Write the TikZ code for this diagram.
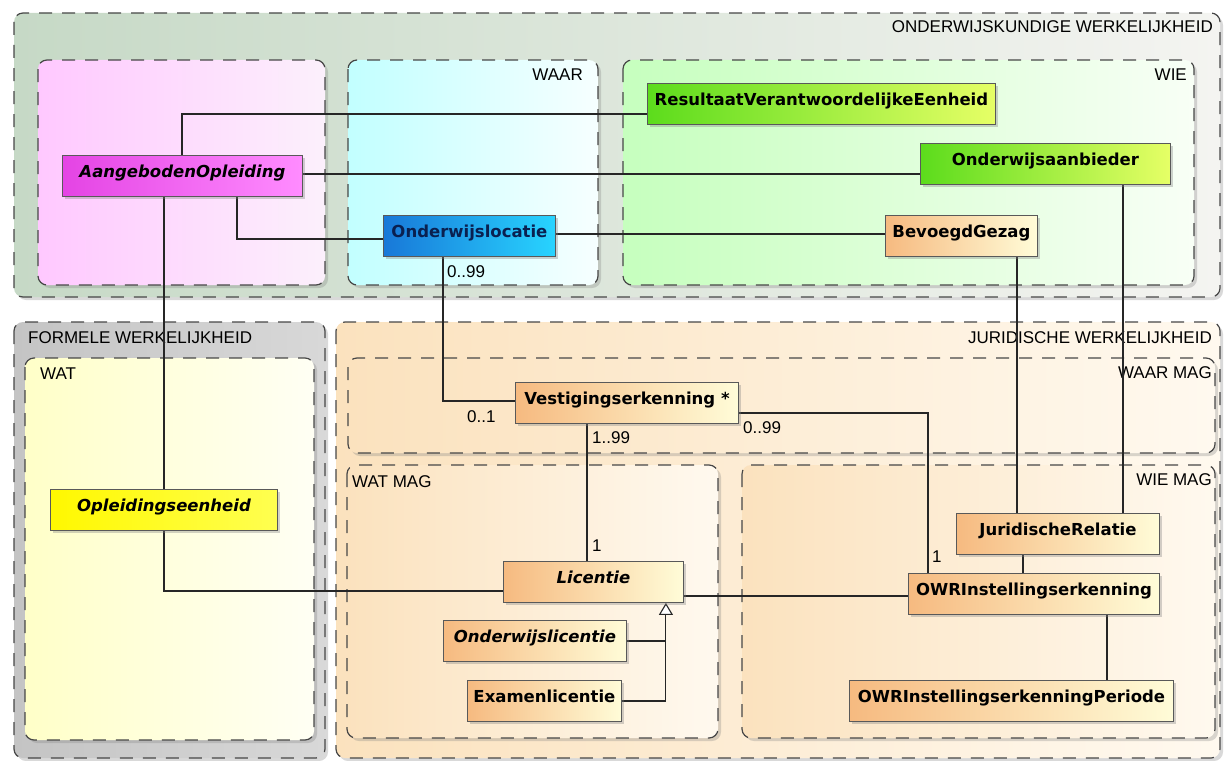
\documentclass[tikz,border=0pt]{standalone}
\usepackage{fontspec}
\setmainfont{Liberation Sans}
\newfontfamily\clsfont{DejaVu Sans}[BoldItalicFont={DejaVu Sans Bold Oblique}]
\usetikzlibrary{arrows.meta,shadows}
\pgfdeclarelayer{grps}
\pgfdeclarelayer{lines}
\pgfsetlayers{grps,lines,main}
\definecolor{owgrp}{HTML}{C6D9C6}
\definecolor{owgrpr}{HTML}{F4F4F1}
\definecolor{pinkgrp}{HTML}{FFC8FF}
\definecolor{pinkgrpr}{HTML}{FCF0FC}
\definecolor{cyangrp}{HTML}{C2FFFF}
\definecolor{cyangrpr}{HTML}{F6FFFF}
\definecolor{greengrp}{HTML}{C6FFBE}
\definecolor{greengrpr}{HTML}{F8FFF6}
\definecolor{graygrp}{HTML}{C4C4C4}
\definecolor{graygrpr}{HTML}{D8D8D8}
\definecolor{yelgrp}{HTML}{FFFFC8}
\definecolor{yelgrpr}{HTML}{FFFFF4}
\definecolor{peachgrp}{HTML}{FBE2BE}
\definecolor{peachgrpr}{HTML}{FFF9EF}
\definecolor{peachcls}{HTML}{F6BA80}
\definecolor{peachclsr}{HTML}{FFFCD8}
\definecolor{greencls}{HTML}{5CDC1C}
\definecolor{greenclsr}{HTML}{E6FF66}
\definecolor{bluecls}{HTML}{1878D8}
\definecolor{blueclsr}{HTML}{28D4FF}
\definecolor{navytxt}{HTML}{0A2050}
\definecolor{magcls}{HTML}{E444E4}
\definecolor{magclsr}{HTML}{FF8CFF}
\definecolor{yelcls}{HTML}{FFF800}
\definecolor{yelclsr}{HTML}{FFFF50}
\begin{document}
\begin{tikzpicture}[x=1pt,y=-1pt,
  grp/.style={draw=black!72,line width=1.2pt,dash pattern=on 13pt off 10pt,rounded corners=9pt,
    drop shadow={opacity=.3,shadow xshift=3pt,shadow yshift=-3pt}},
  grplbl/.style={inner sep=0pt,font=\fontsize{17}{20}\selectfont},
  cls/.style={draw=black!65,line width=.9pt,anchor=north west,inner sep=0pt,
    minimum height=41pt,text height=22pt,text depth=19pt,
    font=\clsfont\bfseries\fontsize{16.5}{20}\selectfont,
    drop shadow={opacity=.35,shadow xshift=3pt,shadow yshift=-3pt}},
  abstr/.style={font=\clsfont\bfseries\itshape\fontsize{16.5}{20}\selectfont},
  peach/.style={left color=peachcls,right color=peachclsr},
  conn/.style={draw=black!85,line width=1.1pt},
  mult/.style={inner sep=0pt,anchor=base west,font=\fontsize{17}{20}\selectfont}]
\useasboundingbox (0,0) rectangle (1225,760);

\begin{pgfonlayer}{grps}
\draw[grp,left color=owgrp,right color=owgrpr] (14,13) rectangle (1220,297);
\draw[grp,left color=pinkgrp,right color=pinkgrpr] (38,60) rectangle (325,285);
\draw[grp,left color=cyangrp,right color=cyangrpr] (348,60) rectangle (598,285);
\draw[grp,left color=greengrp,right color=greengrpr] (623,60) rectangle (1194,285);
\draw[grp,left color=graygrp,right color=graygrpr] (14,322) rectangle (325,758);
\draw[grp,left color=yelgrp,right color=yelgrpr] (25,358) rectangle (314,740);
\draw[grp,left color=peachgrp,right color=peachgrpr] (336,322) rectangle (1220,758);
\draw[grp,left color=peachgrp,right color=peachgrpr] (348,358) rectangle (1215,453);
\draw[grp,left color=peachgrp,right color=peachgrpr] (347,465) rectangle (718,738);
\draw[grp,left color=peachgrp,right color=peachgrpr] (742,465) rectangle (1215,738);
\node[grplbl,anchor=base east] (owlbl) at (1213,33) {ONDERWIJSKUNDIGE WERKELIJKHEID};
\node[grplbl,anchor=base east] (waarlbl) at (583,80) {WAAR};
\node[grplbl,anchor=base east] (wielbl) at (1187,81) {WIE};
\node[grplbl,anchor=base west] (fwlbl) at (28,343) {FORMELE WERKELIJKHEID};
\node[grplbl,anchor=base west] (watlbl) at (40,379) {WAT};
\node[grplbl,anchor=base east] (jwlbl) at (1212,343) {JURIDISCHE WERKELIJKHEID};
\node[grplbl,anchor=base east] (waarmaglbl) at (1212,378) {WAAR MAG};
\node[grplbl,anchor=base west] (watmaglbl) at (352,487) {WAT MAG};
\node[grplbl,anchor=base east] (wiemaglbl) at (1212,485) {WIE MAG};
\end{pgfonlayer}

\node[cls,abstr,left color=magcls,right color=magclsr,minimum width=240pt] (aangeb) at (62,155) {AangebodenOpleiding};
\node[cls,left color=greencls,right color=greenclsr,minimum width=348pt] (result) at (647,83) {ResultaatVerantwoordelijkeEenheid};
\node[cls,left color=greencls,right color=greenclsr,minimum width=250pt] (aanbied) at (920,143) {Onderwijsaanbieder};
\node[cls,left color=bluecls,right color=blueclsr,text=navytxt,minimum width=172pt] (locatie) at (383,215) {Onderwijslocatie};
\node[cls,peach,minimum width=152pt] (bevoegd) at (885,215) {BevoegdGezag};
\node[cls,peach,minimum width=223pt] (vestig) at (515,382) {Vestigingserkenning *};
\node[cls,abstr,left color=yelcls,right color=yelclsr,minimum width=227pt] (opleid) at (50,489) {Opleidingseenheid};
\node[cls,abstr,peach,minimum width=180pt] (licentie) at (503,561) {Licentie};
\node[cls,abstr,peach,minimum width=183pt] (onderlic) at (443,620) {Onderwijslicentie};
\node[cls,peach,minimum width=154pt] (exlic) at (467,680) {Examenlicentie};
\node[cls,peach,minimum width=203pt] (jurid) at (956,513) {JuridischeRelatie};
\node[cls,peach,minimum width=251pt] (owr) at (908,573) {OWRInstellingserkenning};
\node[cls,peach,minimum width=324pt] (periode) at (849,680) {OWRInstellingserkenningPeriode};

\begin{pgfonlayer}{lines}
\draw[conn] ([xshift=120pt]aangeb.north west) |- ([yshift=-10pt]result.west);
\draw[conn] ([yshift=2pt]aangeb.east) -- ([yshift=2pt]aangeb.east -| aanbied.west);
\draw[conn] ([xshift=175pt]aangeb.south west) |- ([yshift=-3pt]locatie.west);
\draw[conn] ([xshift=102pt]aangeb.south west) |- ([yshift=-9pt]licentie.west);
\draw[conn] ([yshift=2pt]locatie.east) -- ([yshift=2pt]locatie.east -| bevoegd.west);
\draw[conn] ([xshift=60pt]locatie.south west) |- ([yshift=2pt]vestig.west);
\draw[conn] ([xshift=72pt]vestig.south west) coordinate (vl) -- (vl |- licentie.north);
\draw[conn] ([yshift=-10pt]vestig.east) -| ([xshift=20pt]owr.north west);
\draw[conn] ([yshift=-14pt]licentie.east) -- ([yshift=-14pt]licentie.east -| owr.west);
\draw[conn] ([xshift=132pt]bevoegd.south west) coordinate (bj) -- (bj |- jurid.north);
\draw[conn] ([xshift=203pt]aanbied.south west) coordinate (aj) -- (aj |- jurid.north);
\draw[conn] ([xshift=67pt]jurid.south west) coordinate (jo) -- (jo |- owr.north);
\draw[conn] ([xshift=199pt]owr.south west) coordinate (op) -- (op |- periode.north);
\coordinate (gentip) at ([xshift=-18pt]licentie.south east);
\draw[conn,-{Triangle[length=12pt,width=14pt,fill=white]}] (onderlic.east) -| (gentip);
\draw[conn] (exlic.east) -| (gentip |- onderlic.east);
\end{pgfonlayer}

\node[mult] (m1) at (447,277) {0..99};
\node[mult] (m2) at (467,422) {0..1};
\node[mult] (m3) at (592,443) {1..99};
\node[mult] (m4) at (592,551) {1};
\node[mult] (m5) at (743,433) {0..99};
\node[mult] (m6) at (932,562) {1};
\end{tikzpicture}
\end{document}
